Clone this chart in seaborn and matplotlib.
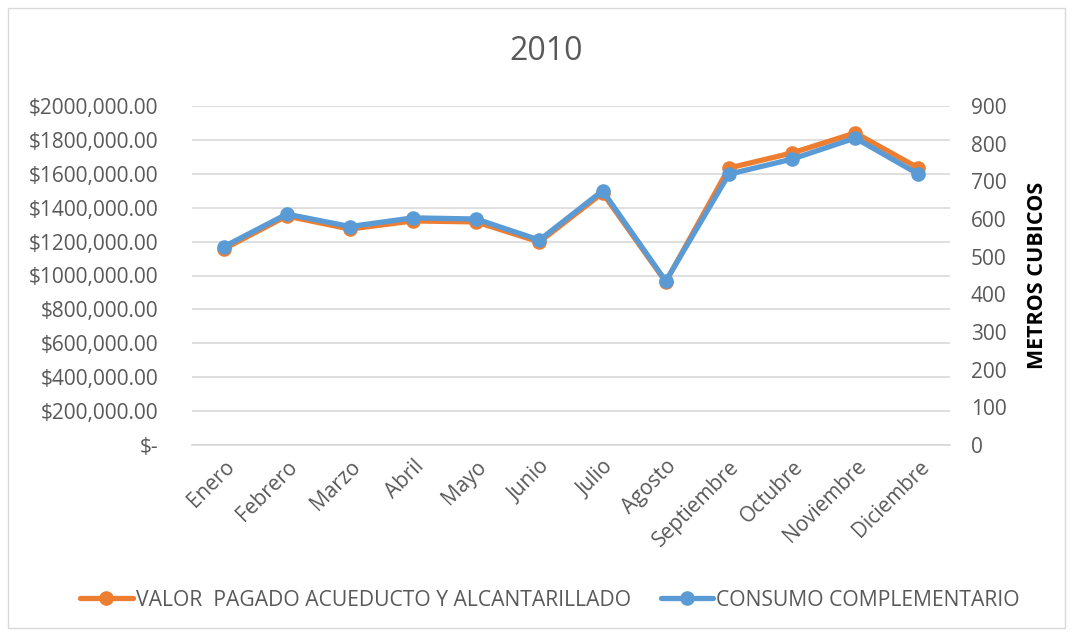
import matplotlib
matplotlib.use("Agg")
import matplotlib.pyplot as plt
import seaborn as sns
import pandas as pd
from matplotlib.ticker import FuncFormatter, MultipleLocator
from matplotlib.lines import Line2D
from matplotlib.patches import Rectangle

months = ["Enero", "Febrero", "Marzo", "Abril", "Mayo", "Junio", "Julio",
          "Agosto", "Septiembre", "Octubre", "Noviembre", "Diciembre"]
valor_pagado = [1156000, 1351000, 1274000, 1322000, 1316000, 1198000,
                1487000, 962000, 1634000, 1723000, 1841000, 1634000]
consumo = [526, 613, 580, 603, 600, 544, 675, 435, 719, 759, 815, 719]

title = "2010"
label_left = "VALOR  PAGADO ACUEDUCTO Y ALCANTARILLADO"
label_right = "CONSUMO COMPLEMENTARIO"
right_axis_title = "METROS CUBICOS"

sns.set_theme(style="white")
plt.rcParams['font.family'] = ['Open Sans', 'DejaVu Sans']

orange = "#ED7D31"
blue = "#5B9BD5"
gray = "#595959"

df = pd.DataFrame({"x": list(range(len(months))), "valor": valor_pagado, "consumo": consumo})

fig = plt.figure(figsize=(10.73, 6.34), dpi=100)
ax = fig.add_axes([192/1073, 1-445/634, (950-192)/1073, (445-106)/634])
ax2 = ax.twinx()

sns.lineplot(data=df, x="x", y="valor", ax=ax, color=orange, linewidth=3.8,
             marker="o", markersize=10.5, markeredgewidth=0, legend=False)
sns.lineplot(data=df, x="x", y="consumo", ax=ax2, color=blue, linewidth=3.8,
             marker="o", markersize=10.5, markeredgewidth=0, legend=False)

ax.set_xlim(-0.5, len(months) - 0.5)
ax.set_ylim(0, 2000000)
ax2.set_ylim(0, 900)
ax.yaxis.set_major_locator(MultipleLocator(200000))
ax2.yaxis.set_major_locator(MultipleLocator(100))

def money(v, pos):
    v = int(round(v))
    if v == 0:
        return "$-"
    return f"${v // 1000},{v % 1000:03d}.00"

ax.yaxis.set_major_formatter(FuncFormatter(money))
ax.grid(axis="y", color="#D9D9D9", linewidth=1.2)
ax.set_axisbelow(True)
for a in (ax, ax2):
    for s in a.spines.values():
        s.set_visible(False)
ax.spines["bottom"].set_visible(True)
ax.spines["bottom"].set_color("#D9D9D9")

ax.set_xticks(range(len(months)))
ax.set_xticklabels(months, rotation=45, ha="right", rotation_mode="anchor",
                   fontsize=15, color=gray)
ax.tick_params(axis="y", labelsize=15, labelcolor=gray, length=0, pad=24)
ax.tick_params(axis="x", length=0, pad=8)
ax2.tick_params(axis="y", labelsize=15, labelcolor=gray, length=0, pad=15)
ax.set_xlabel("")
ax.set_ylabel("")
ax2.set_ylabel(right_axis_title, fontsize=15.5, fontweight="bold", color="black", labelpad=15)

fig.text(546/1073, 1-52/634, title, ha="center", va="center", fontsize=23, color=gray)

handles = [
    Line2D([], [], color=orange, linewidth=3.8, marker="o", markersize=10.5, markeredgewidth=0),
    Line2D([], [], color=blue, linewidth=3.8, marker="o", markersize=10.5, markeredgewidth=0),
]
fig.legend(handles, [label_left, label_right], loc="center", bbox_to_anchor=(550/1073, 1-600/634),
           ncol=2, frameon=False, fontsize=15.2, labelcolor=gray, handlelength=2.5,
           handletextpad=0.15, columnspacing=1.4)

fig.patches.append(Rectangle((8/1073, 1-628/634), 1057/1073, 620/634, transform=fig.transFigure,
                             fill=False, edgecolor="#D9D9D9", linewidth=1))

fig.savefig("out.png", dpi=100)
